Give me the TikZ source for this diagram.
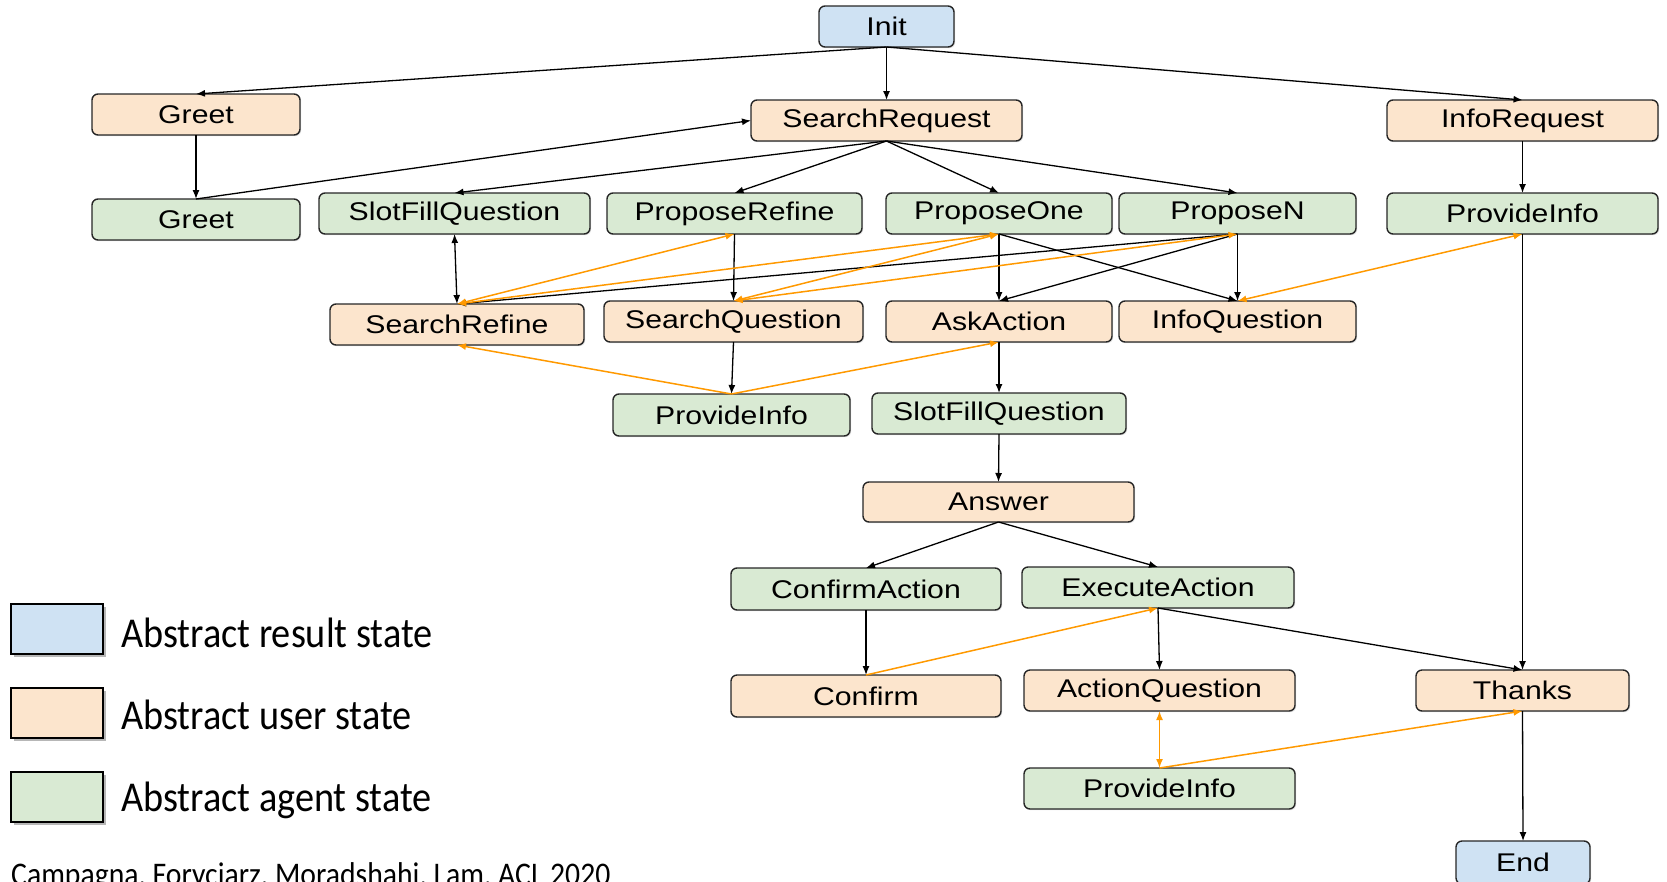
\documentclass[tikz,border=0pt]{standalone}
\usepackage{fontspec}
\setmainfont{Liberation Sans}[FakeStretch=1.18]
\newfontfamily\legendfont{Carlito}[FakeStretch=0.9]
\usetikzlibrary{arrows.meta,shadows}

\definecolor{resultfill}{HTML}{CFE2F3}
\definecolor{userfill}{HTML}{FCE5CD}
\definecolor{agentfill}{HTML}{D9EAD3}
\definecolor{backedge}{HTML}{FF9900}

% state box given by its corners (x1,y1) and (x2,y2), in pixels with y down
\newcommand\statenode[7]{%
  \node[#2, minimum width={(#5)-(#3)}, minimum height={(#6)-(#4)}]
    (#1) at ({((#3)+(#5))/2},{((#4)+(#6))/2}) {#7};}

\begin{document}
\begin{tikzpicture}[x=1pt,y=-1pt,
  state/.style={draw=black!85, line width=1.4pt, rounded corners=6pt,
    inner sep=0pt, outer sep=0pt, font=\fontsize{25.6}{28}\selectfont,
    drop shadow={shadow xshift=1.2pt, shadow yshift=-1.2pt, fill=black!25}},
  result/.style={state, fill=resultfill},
  user/.style={state, fill=userfill},
  agent/.style={state, fill=agentfill},
  tip/.tip={Latex[length=9pt,width=7pt]},
  flow/.style={draw=black, line width=1.3pt, -tip},
  flowboth/.style={draw=black, line width=1.3pt, tip-tip},
  back/.style={draw=backedge, line width=1.5pt, -tip},
  backboth/.style={draw=backedge, line width=1.5pt, tip-tip},
  legendbox/.style={draw=black, line width=2.6pt, minimum width=92pt,
    minimum height=50pt, inner sep=0pt,
    drop shadow={shadow xshift=3pt, shadow yshift=-3pt, fill=black!40, opacity=0.7}},
  legendtext/.style={anchor=base west, inner sep=0pt,
    font=\legendfont\fontsize{42.5}{46}\selectfont},
]
\useasboundingbox (0,0) rectangle (1667,881);

% ---- states ----
\statenode{init}{result}{819}{6}{954}{47}{Init}
\statenode{greetU}{user}{92}{94}{300}{135}{Greet}
\statenode{sreq}{user}{751}{100}{1022}{141}{SearchRequest}
\statenode{ireq}{user}{1387}{100}{1658}{141}{InfoRequest}

\statenode{greetA}{agent}{92}{199}{300}{240}{Greet}
\statenode{sfq}{agent}{319}{193}{590}{234}{SlotFillQuestion}
\statenode{prefine}{agent}{607}{193}{862}{234}{ProposeRefine}
\statenode{pone}{agent}{886}{193}{1112}{234}{ProposeOne}
\statenode{pn}{agent}{1119}{193}{1356}{234}{ProposeN}
\statenode{pinfoR}{agent}{1387}{193}{1658}{234}{ProvideInfo}

\statenode{srefine}{user}{330}{304}{584}{345}{SearchRefine}
\statenode{squest}{user}{604}{301}{863}{342}{SearchQuestion}
\statenode{ask}{user}{886}{301}{1112}{342}{AskAction}
\statenode{iq}{user}{1119}{301}{1356}{342}{InfoQuestion}

\statenode{pinfoM}{agent}{613}{394}{850}{436}{ProvideInfo}
\statenode{sfq2}{agent}{872}{393}{1126}{434}{SlotFillQuestion}

\statenode{answer}{user}{863}{482}{1134}{522}{Answer}

\statenode{cact}{agent}{731}{568}{1001}{610}{ConfirmAction}
\statenode{eact}{agent}{1022}{567}{1294}{608}{ExecuteAction}

\statenode{confirm}{user}{731}{675}{1001}{717}{Confirm}
\statenode{aq}{user}{1024}{670}{1295}{711}{ActionQuestion}
\statenode{thanks}{user}{1416}{670}{1629}{711}{Thanks}

\statenode{pinfoB}{agent}{1024}{768}{1295}{809}{ProvideInfo}
\statenode{endn}{result}{1456}{841}{1590}{884}{End}

% ---- forward transitions ----
\draw[flow] (init.south) -- (greetU.north);
\draw[flow] (init.south) -- (sreq.north);
\draw[flow] (init.south) -- (ireq.north);
\draw[flow] (greetU.south) -- (greetA.north);
\draw[flow] (greetA.north) -- (sreq.west);
\draw[flow] (sreq.south) -- (sfq.north);
\draw[flow] (sreq.south) -- (prefine.north);
\draw[flow] (sreq.south) -- (pone.north);
\draw[flow] (sreq.south) -- (pn.north);
\draw[flow] (ireq.south) -- (pinfoR.north);
\draw[flowboth] (sfq.south) -- (srefine.north);
\draw[flow] (prefine.south) -- (squest.north);
\draw[flow] (pone.south) -- (ask.north);
\draw[flow] (pone.south) -- (iq.north);
\draw[flow] (pn.south) -- (srefine.north);
\draw[flow] (pn.south) -- (ask.north);
\draw[flow] (pn.south) -- (iq.north);
\draw[flow] (squest.south) -- (pinfoM.north);
\draw[flow] (ask.south) -- (sfq2.north);
\draw[flow] (sfq2.south) -- (answer.north);
\draw[flow] (answer.south) -- (cact.north);
\draw[flow] (answer.south) -- (eact.north);
\draw[flow] (cact.south) -- (confirm.north);
\draw[flow] (eact.south) -- (aq.north);
\draw[flow] (eact.south) -- (thanks.north);
\draw[flow] (pinfoR.south) -- (thanks.north);
\draw[flow] (thanks.south) -- (endn.north);

% ---- back transitions ----
\draw[backboth] (srefine.north) -- (prefine.south);
\draw[backboth] (srefine.north) -- (pone.south);
\draw[backboth] (squest.north) -- (pone.south);
\draw[backboth] (squest.north) -- (pn.south);
\draw[backboth] (iq.north) -- (pinfoR.south);
\draw[back] (pinfoM.north) -- (srefine.south);
\draw[back] (pinfoM.north) -- (ask.south);
\draw[back] (confirm.north) -- (eact.south);
\draw[backboth] (aq.south) -- (pinfoB.north);
\draw[back] (pinfoB.north) -- (thanks.south);

% ---- legend ----
\node[legendbox, fill=resultfill] (lgR) at (57,629) {};
\node[legendbox, fill=userfill] (lgU) at (57,713) {};
\node[legendbox, fill=agentfill] (lgA) at (57,797) {};
\node[legendtext] (lgRt) at (121,647) {Abstract result state};
\node[legendtext] (lgUt) at (121,729) {Abstract user state};
\node[legendtext] (lgAt) at (121,811) {Abstract agent state};

\node[anchor=base west, inner sep=0pt, font=\legendfont\fontsize{33}{36}\selectfont]
  (cite) at (11,885) {Campagna, Foryciarz, Moradshahi, Lam, ACL 2020};
\end{tikzpicture}
\end{document}
